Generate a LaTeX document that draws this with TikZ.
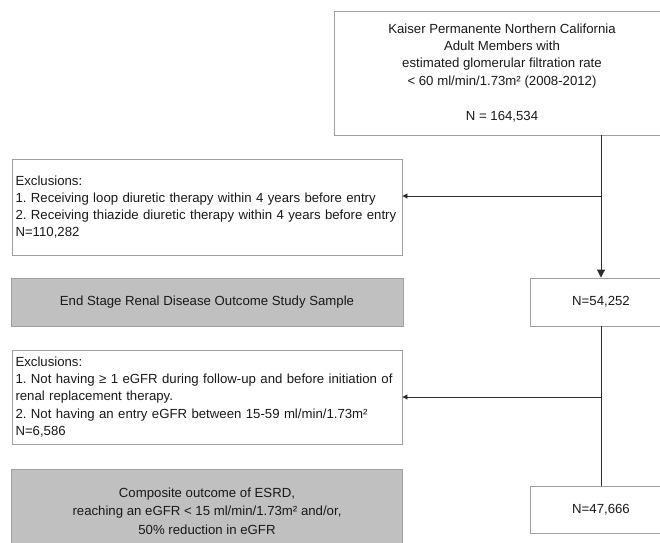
\documentclass[tikz,border=0pt]{standalone}
\usepackage{fontspec}
\setmainfont{Liberation Sans}
\frenchspacing
\usetikzlibrary{arrows.meta,calc}
\definecolor{edgegray}{RGB}{160,160,160}
\definecolor{fillgray}{RGB}{192,192,192}
\definecolor{linegray}{RGB}{45,45,45}
\definecolor{textgray}{RGB}{25,25,25}
\tikzset{
	box/.style={rectangle,draw=edgegray,line width=0.9pt,inner sep=0pt,text=textgray,
		font=\fontsize{13.2}{17.2}\selectfont,align=center},
	exbox/.style={box,align=left,inner xsep=3.5pt,text width=383pt},
	greybox/.style={box,fill=fillgray},
	flow/.style={draw=linegray,line width=0.9pt},
	down/.style={flow,-{Triangle[length=8pt,width=8pt]}},
	side/.style={flow,-{Triangle[length=5pt,width=5pt]}}}

\begin{document}
\begin{tikzpicture}[x=1pt,y=-1pt]
	\useasboundingbox (0,0) rectangle (660,542);
	\clip (0,0) rectangle (660,542);
	\node (top) at (502,73) [box,minimum width=336pt,minimum height=124pt]
		{Kaiser Permanente Northern California\\Adult Members with\\estimated glomerular filtration rate\\< 60 ml/min/1.73m² (2008-2012)\\[18pt]N = 164,534};
	\node (ex1) at (207,207) [exbox,minimum height=96pt]
		{Exclusions:\\1. Receiving loop diuretic therapy within 4 years before entry\\2. Receiving thiazide diuretic therapy within 4 years before entry\\N=110,282};
	\node (sample) at (207,302) [greybox,minimum width=392pt,minimum height=48pt]
		{End Stage Renal Disease Outcome Study Sample};
	\node (n1) at (601,302) [box,minimum width=142pt,minimum height=48pt] {N=54,252};
	\node (ex2) at (207,397) [exbox,minimum height=94pt]
		{Exclusions:\\1. Not having ≥ 1 eGFR during follow-up and before initiation of\\renal replacement therapy.\\2. Not having an entry eGFR between 15-59 ml/min/1.73m²\\N=6,586};
	\node (outcome) at (207,511) [greybox,minimum width=391pt,minimum height=84pt,
		font=\fontsize{13.2}{18.5}\selectfont]
		{Composite outcome of ESRD,\\reaching an eGFR < 15 ml/min/1.73m² and/or,\\50\% reduction in eGFR};
	\node (n2) at (601,509.5) [box,minimum width=142pt,minimum height=47pt] {N=47,666};
	\coordinate (b1) at (601,196);
	\draw [down] (top.south -| n1) -- (n1.north);
	\draw [side] (b1) -- (b1 -| ex1.east);
	\draw [flow] (n1.south) -- (n2.north);
	\draw [side] (ex2.east -| n1) -- (ex2.east);
\end{tikzpicture}
\end{document}
